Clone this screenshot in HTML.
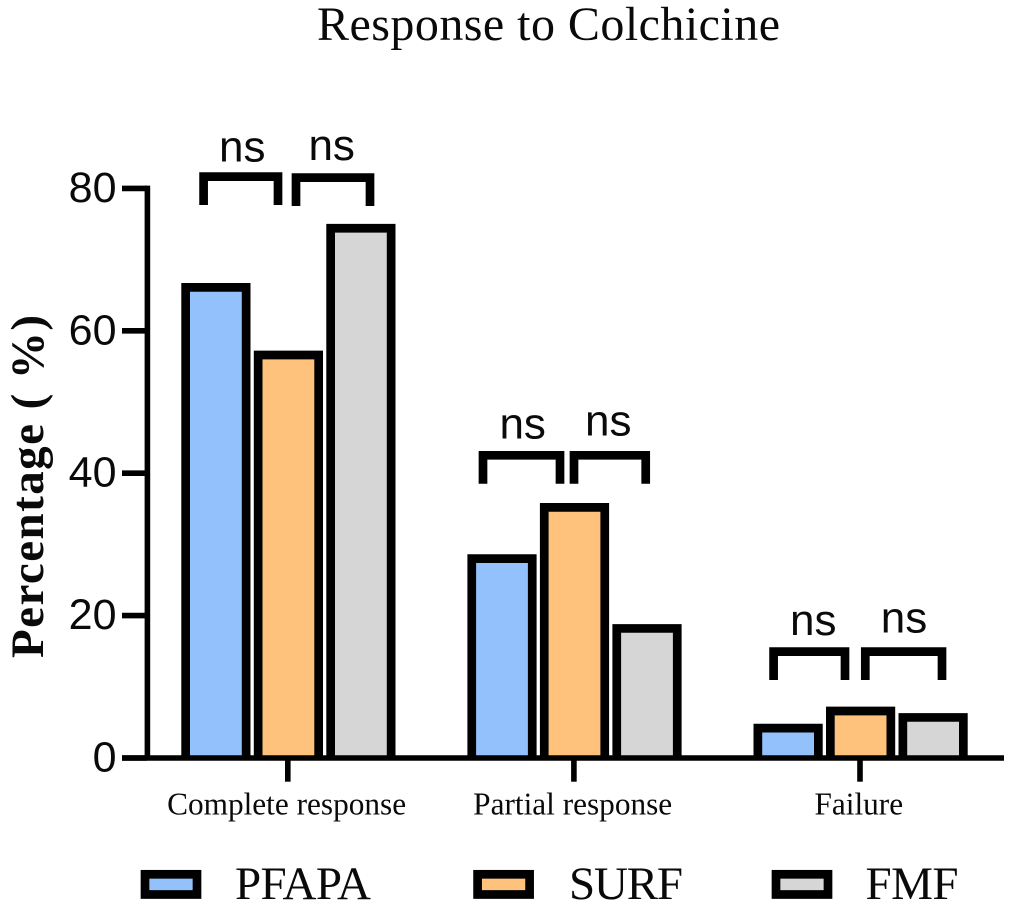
<!DOCTYPE html>
<html lang="en">
<head>
<meta charset="utf-8">
<title>Response to Colchicine</title>
<style>
html,body{margin:0;padding:0;background:#fff;width:1009px;height:910px;overflow:hidden}
svg{display:block}
.serif{font-family:"Liberation Serif",serif;fill:#0a0a0a}
.sans{font-family:"Liberation Sans",sans-serif;fill:#0a0a0a}
.ns{font-size:44px;text-anchor:middle}
.bracket{fill:none;stroke:#000;stroke-width:8.7;stroke-linejoin:miter}
.legend-label{font-size:47px}
</style>
</head>
<body>
<svg id="chart" xmlns="http://www.w3.org/2000/svg" width="1009" height="910" viewBox="0 0 1009 910">
  <text class="serif" x="317" y="40" font-size="48" textLength="463" lengthAdjust="spacing">Response to Colchicine</text>
  <text class="serif" transform="translate(43 658) rotate(-90)" font-size="47" font-weight="bold" textLength="343" lengthAdjust="spacing">Percentage ( %)</text>

  <g id="bars"></g>
  <g id="axes"></g>

  <g>
    <path class="bracket" d="M203.6 205V176.6H278V205"/>
    <path class="bracket" d="M296 206V177.6H370V206"/>
    <path class="bracket" d="M483 483.7V455.3H560V483.7"/>
    <path class="bracket" d="M574 483.7V455.3H645.7V483.7"/>
    <path class="bracket" d="M773.6 680V651.6H845V680"/>
    <path class="bracket" d="M865.3 680V651.6H942V680"/>
    <text class="sans ns" x="242.3" y="161.7">ns</text>
    <text class="sans ns" x="331.7" y="160">ns</text>
    <text class="sans ns" x="522.7" y="438.7">ns</text>
    <text class="sans ns" x="608.3" y="435.3">ns</text>
    <text class="sans ns" x="813.3" y="635">ns</text>
    <text class="sans ns" x="904" y="632.3">ns</text>
  </g>

  <g>
    <g>
      <rect x="145" y="874.3" width="52" height="20.2" fill="#92C1FC" stroke="#000" stroke-width="8.7"/>
      <text class="serif legend-label" x="235" y="899" textLength="136" lengthAdjust="spacing">PFAPA</text>
    </g>
    <g>
      <rect x="477.6" y="874.3" width="52" height="20.2" fill="#FFC27D" stroke="#000" stroke-width="8.7"/>
      <text class="serif legend-label" x="569" y="899" textLength="114" lengthAdjust="spacing">SURF</text>
    </g>
    <g>
      <rect x="776" y="874.3" width="52" height="20.2" fill="#D6D6D6" stroke="#000" stroke-width="8.7"/>
      <text class="serif legend-label" x="865.5" y="899" textLength="93" lengthAdjust="spacing">FMF</text>
    </g>
  </g>
</svg>
<script>
const categories = ["Complete response", "Partial response", "Failure"];
const seriesNames = ["PFAPA", "SURF", "FMF"];
const pfapaValues = [66.1, 28.0, 4.2];
const surfValues = [56.6, 35.2, 6.6];
const fmfValues = [74.4, 18.2, 5.7];
const yTickLabels = [0, 20, 40, 60, 80];

const seriesValues = [pfapaValues, surfValues, fmfValues];
const seriesFills = ["#92C1FC", "#FFC27D", "#D6D6D6"];
const SVG_NS = "http://www.w3.org/2000/svg";
const barsLayer = document.getElementById("bars");
const axesLayer = document.getElementById("axes");

function yScale(v) { return 758 - v * 7.12; }
function xCategory(i) { return 287.8 + i * 286.1; }
function xBar(i, s) { return xCategory(i) + 0.6 + (s - 1) * 72.5; }
function slug(t) { return String(t).toLowerCase().replace(/\s+/g, "-"); }
function make(tag, parent) {
  const el = document.createElementNS(SVG_NS, tag);
  parent.appendChild(el);
  return el;
}

const barWidth = 60.5;
seriesValues.forEach(function (values, s) {
  values.forEach(function (v, i) {
    const cx = xBar(i, s);
    const bar = make("path", barsLayer);
    
    
    bar.setAttribute("d", "M" + (cx - barWidth / 2) + " " + yScale(0) + "V" + yScale(v) + "H" + (cx + barWidth / 2) + "V" + yScale(0));
    bar.setAttribute("fill", seriesFills[s]);
    bar.setAttribute("stroke", "#000");
    bar.setAttribute("stroke-width", "8.7");
  });
});

const yAxisLine = make("line", axesLayer);


yAxisLine.setAttribute("x1", 147.4);
yAxisLine.setAttribute("x2", 147.4);
yAxisLine.setAttribute("y1", yScale(80) - 2.8);
yAxisLine.setAttribute("y2", yScale(0));
yAxisLine.setAttribute("stroke", "#000");
yAxisLine.setAttribute("stroke-width", "5.6");

const xAxisLine = make("line", axesLayer);


xAxisLine.setAttribute("x1", 122);
xAxisLine.setAttribute("x2", 1004);
xAxisLine.setAttribute("y1", yScale(0));
xAxisLine.setAttribute("y2", yScale(0));
xAxisLine.setAttribute("stroke", "#000");
xAxisLine.setAttribute("stroke-width", "5.6");

yTickLabels.forEach(function (t) {
  const y = yScale(t);
  const tick = make("line", axesLayer);
  
  
  tick.setAttribute("x1", 122);
  tick.setAttribute("x2", 147);
  tick.setAttribute("y1", y);
  tick.setAttribute("y2", y);
  tick.setAttribute("stroke", "#000");
  tick.setAttribute("stroke-width", "5.6");
  const label = make("text", axesLayer);
  
  
  label.setAttribute("class", "sans");
  label.setAttribute("x", 116.5);
  label.setAttribute("y", y + 13.5);
  label.setAttribute("text-anchor", "end");
  label.setAttribute("font-size", "43");
  label.textContent = t;
});

categories.forEach(function (c, i) {
  const x = xCategory(i);
  const tick = make("line", axesLayer);
  
  
  tick.setAttribute("x1", x);
  tick.setAttribute("x2", x);
  tick.setAttribute("y1", yScale(0));
  tick.setAttribute("y2", 781.7);
  tick.setAttribute("stroke", "#000");
  tick.setAttribute("stroke-width", "5.6");
  const label = make("text", axesLayer);
  
  
  label.setAttribute("class", "serif");
  label.setAttribute("x", x - 1.2);
  label.setAttribute("y", 814.5);
  label.setAttribute("text-anchor", "middle");
  label.setAttribute("font-size", "31.3");
  label.textContent = c;
});
</script>
</body>
</html>
